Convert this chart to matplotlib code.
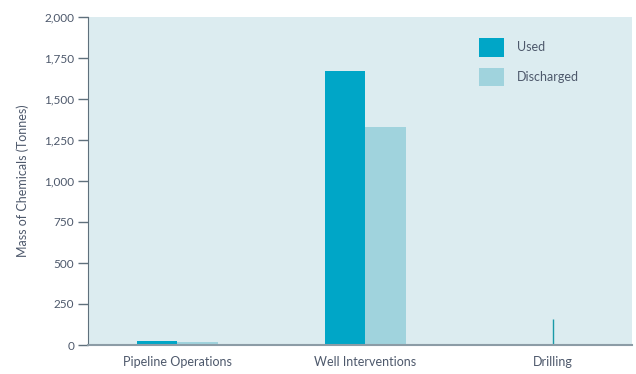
import matplotlib.pyplot as plt
import numpy as np

categories = ["Pipeline Operations", "Well Interventions", "Drilling"]
used = [25, 1670, 0]
discharged = [18, 1330, 0]
drilling_line = 158  # drawn as a thin line in the source

c_used = "#00a6c7"
c_disch = "#a0d3dd"
bg = "#dcecf0"
txt = "#4d586b"

plt.rcParams["font.family"] = ["Lato", "DejaVu Sans"]

fig = plt.figure(figsize=(6.36, 3.74), dpi=100)
ax = fig.add_axes([88 / 636, 1 - 345 / 374, (632 - 88) / 636, (345 - 17) / 374])
ax.set_facecolor(bg)

x = np.arange(len(categories))
w = 0.215
ax.bar(x - w / 2, used, w, color=c_used, label="Used")
ax.bar(x + w / 2, discharged, w, color=c_disch, label="Discharged")
ax.vlines(x[2], 0, drilling_line, color="#1a9aa8", lw=1)

ax.set_xlim(-0.475, 2.42)
ax.set_ylim(0, 2000)
ax.set_yticks(np.arange(0, 2001, 250))
ax.set_yticklabels([f"{v:,}" for v in range(0, 2001, 250)])
ax.set_xticks(x)
ax.set_xticklabels(categories)
ax.tick_params(axis="x", length=0, pad=8, labelsize=9, labelcolor=txt)
ax.tick_params(axis="y", length=7, width=1, color="#5f707c", pad=3, labelsize=8.5, labelcolor=txt)

for s in ["top", "right"]:
    ax.spines[s].set_visible(False)
ax.spines["left"].set_color("#5f707c")
ax.spines["bottom"].set_color("#8c9ca6")
ax.spines["bottom"].set_linewidth(1.5)

ax.set_ylabel("Mass of Chemicals (Tonnes)", fontsize=9, color=txt, labelpad=11)

ax.legend(loc="upper left", bbox_to_anchor=((474 - 88) / 544, (345 - 33) / 328), frameon=False,
          handlelength=2.0, handleheight=1.9, labelspacing=0.9, handletextpad=1.0,
          fontsize=9, labelcolor=txt, borderaxespad=0)

fig.savefig("out.png", dpi=100, facecolor="white")
